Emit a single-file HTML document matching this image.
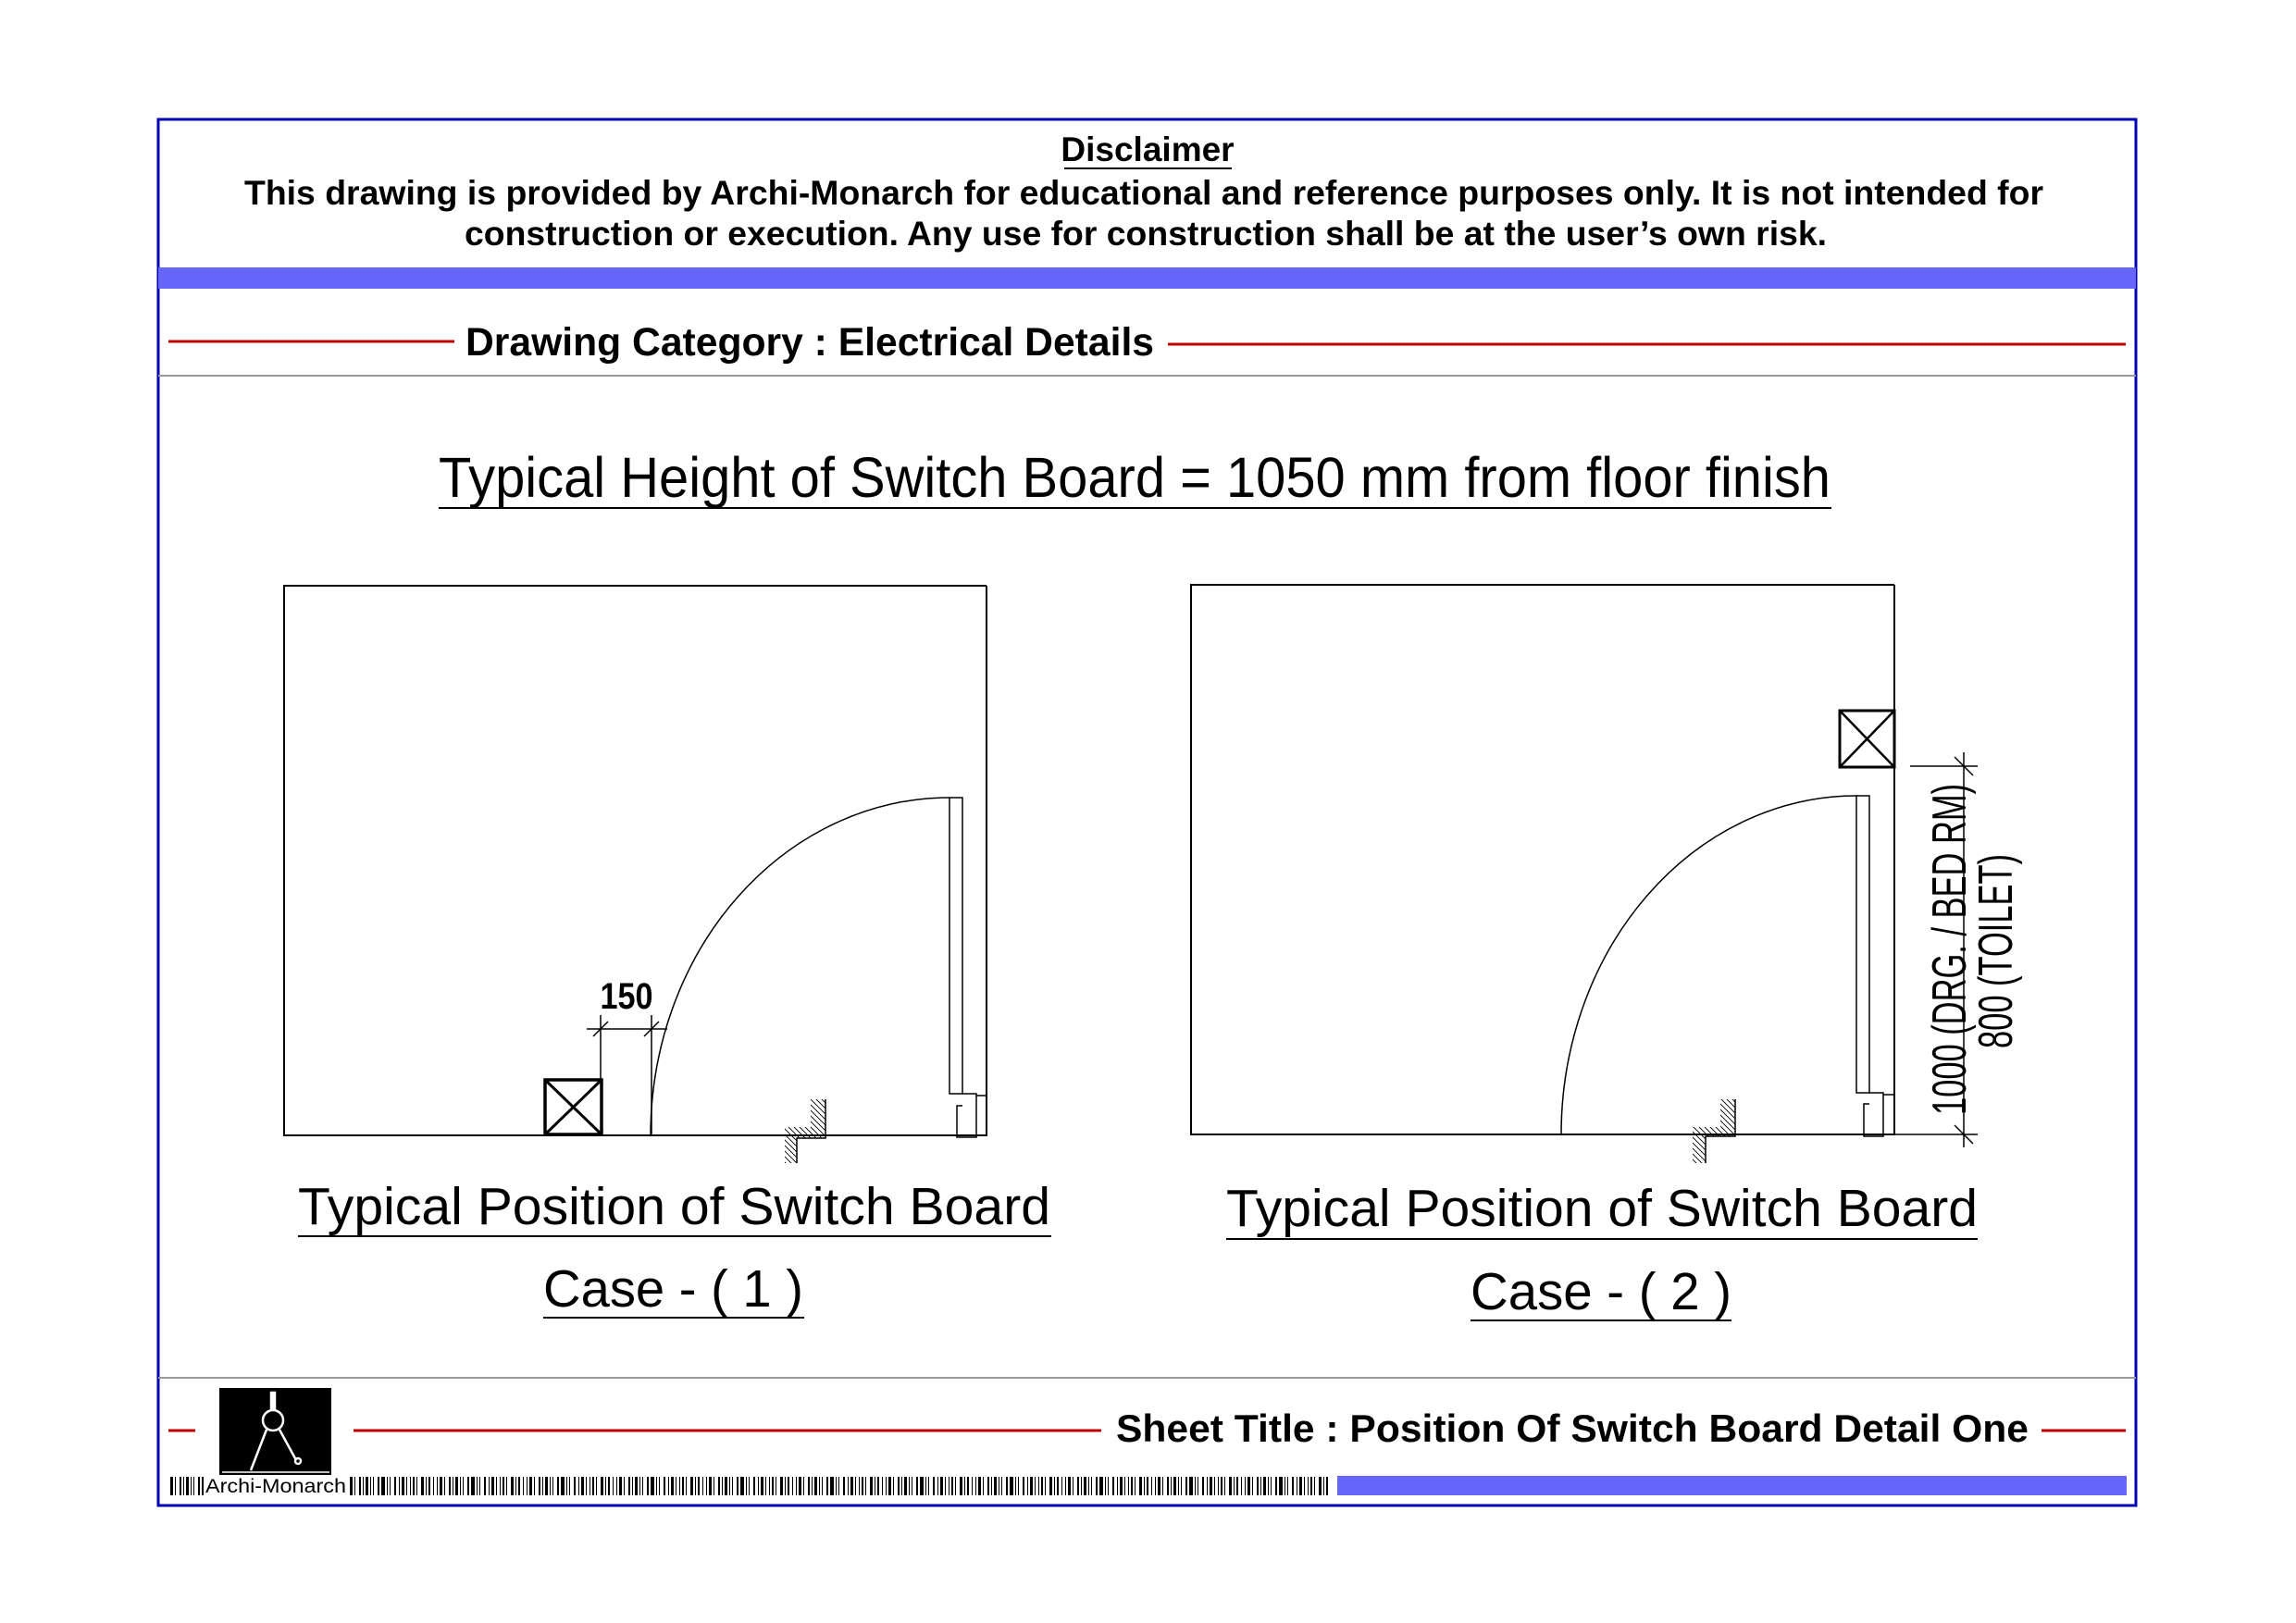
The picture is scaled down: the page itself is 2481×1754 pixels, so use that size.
<!DOCTYPE html>
<html><head><meta charset="utf-8"><style>
html,body{margin:0;padding:0;background:#fff;}
svg{display:block;}
text{font-family:"Liberation Sans",Arial,sans-serif;fill:#000;}
</style></head><body>
<svg width="2481" height="1754" viewBox="0 0 2481 1754" xmlns="http://www.w3.org/2000/svg">
<defs>
<pattern id="h" patternUnits="userSpaceOnUse" width="6" height="6">
<path d="M-1,-1 L7,7 M-7,-1 L1,7 M5,-1 L13,7" stroke="#000" stroke-width="0.9"/>
</pattern>
<pattern id="bc" patternUnits="userSpaceOnUse" width="97" height="20" x="0" y="1596">
<rect x="0" y="0" width="2" height="20"/><rect x="4" y="0" width="1" height="20"/><rect x="7" y="0" width="3" height="20"/><rect x="12" y="0" width="1" height="20"/><rect x="15" y="0" width="1" height="20"/><rect x="20" y="0" width="2" height="20"/><rect x="24" y="0" width="4" height="20"/><rect x="30" y="0" width="1" height="20"/><rect x="33" y="0" width="1" height="20"/><rect x="38" y="0" width="2" height="20"/><rect x="43" y="0" width="1" height="20"/><rect x="46" y="0" width="3" height="20"/><rect x="51" y="0" width="1" height="20"/><rect x="55" y="0" width="1" height="20"/><rect x="58" y="0" width="2" height="20"/><rect x="62" y="0" width="1" height="20"/><rect x="67" y="0" width="3" height="20"/><rect x="72" y="0" width="1" height="20"/><rect x="75" y="0" width="2" height="20"/><rect x="80" y="0" width="1" height="20"/><rect x="84" y="0" width="1" height="20"/><rect x="87" y="0" width="3" height="20"/><rect x="92" y="0" width="1" height="20"/>
</pattern>
</defs>

<rect x="171" y="129" width="2137" height="1498" fill="none" stroke="#0000b4" stroke-width="3"/>

<text x="1240" y="174" font-size="37" font-weight="bold" text-anchor="middle">Disclaimer</text>
<line x1="1150" y1="182" x2="1331" y2="182" stroke="#000" stroke-width="2"/>
<text x="264" y="221" font-size="37" font-weight="bold" textLength="1944" lengthAdjust="spacingAndGlyphs">This drawing is provided by Archi-Monarch for educational and reference purposes only. It is not intended for</text>
<text x="502" y="265" font-size="37" font-weight="bold" textLength="1472" lengthAdjust="spacingAndGlyphs">construction or execution. Any use for construction shall be at the user’s own risk.</text>

<rect x="171" y="289" width="2137" height="23" fill="#6666ff"/>

<line x1="182" y1="369" x2="491" y2="369" stroke="#c00000" stroke-width="3"/>
<line x1="1262" y1="372" x2="2297" y2="372" stroke="#c00000" stroke-width="3"/>
<text x="503" y="384" font-size="43" font-weight="bold" textLength="744" lengthAdjust="spacingAndGlyphs">Drawing Category : Electrical Details</text>
<line x1="171" y1="406" x2="2308" y2="406" stroke="#999" stroke-width="2"/>

<text x="474" y="537" font-size="61" textLength="1504" lengthAdjust="spacingAndGlyphs">Typical Height of Switch Board = 1050 mm from floor finish</text>
<line x1="474" y1="549" x2="1979" y2="549" stroke="#000" stroke-width="2"/>

<!-- LEFT ROOM -->
<g fill="none" stroke="#000" stroke-width="2">
<path d="M1066,633 H307 V1227 H1066 V633"/>
<rect x="589" y="1167" width="61" height="59" stroke-width="3.5"/>
<path d="M589,1167 L650,1226 M650,1167 L589,1226" stroke-width="3"/>
</g>
<g fill="none" stroke="#000" stroke-width="1.5">
<path d="M1026,862 A323,365 0 0,0 703,1227"/>
<rect x="1026" y="862" width="14" height="320"/>
<path d="M1040,1182 H1055 V1229 H1034 V1195 H1040 M1055,1184 H1066"/>
<path d="M649,1097 V1167 M704,1097 V1227 M634,1112 H721 M641,1120 L657,1104 M696,1120 L712,1104"/>
<path d="M892,1188 V1230 H861 V1257"/>
</g>
<path d="M876,1188 H892 V1230 H861 V1257 H848 V1218 H876 Z" fill="url(#h)"/>
<text x="677" y="1090" font-size="40" font-weight="bold" text-anchor="middle" textLength="57" lengthAdjust="spacingAndGlyphs">150</text>

<!-- RIGHT ROOM -->
<g fill="none" stroke="#000" stroke-width="2">
<path d="M2047,632 H1287 V1226 H2047 V632"/>
<rect x="1988" y="768" width="59" height="61" stroke-width="3"/>
<path d="M1988,768 L2047,829 M2047,768 L1988,829" stroke-width="2.5"/>
</g>
<g fill="none" stroke="#000" stroke-width="1.5">
<path d="M2006,860 A319,366 0 0,0 1687,1226"/>
<rect x="2006" y="860" width="14" height="321"/>
<path d="M2020,1181 H2035 V1228 H2014 V1193 H2020 M2035,1183 H2047"/>
<path d="M1875,1188 V1228 H1843 V1257"/>
<path d="M2064,828 H2137 M2047,1226 H2137 M2122,813 V1240 M2112,818 L2132,838 M2112,1216 L2132,1236"/>
</g>
<path d="M1859,1188 H1875 V1228 H1843 V1257 H1829 V1218 H1859 Z" fill="url(#h)"/>
<text transform="translate(2124,1026) rotate(-90)" font-size="52" text-anchor="middle" textLength="358" lengthAdjust="spacingAndGlyphs">1000 (DRG. / BED RM)</text>
<text transform="translate(2174,1028) rotate(-90)" font-size="52" text-anchor="middle" textLength="210" lengthAdjust="spacingAndGlyphs">800 (TOILET)</text>

<!-- captions -->
<text x="322" y="1323" font-size="57" textLength="813" lengthAdjust="spacingAndGlyphs">Typical Position of Switch Board</text>
<line x1="322" y1="1336" x2="1136" y2="1336" stroke="#000" stroke-width="2"/>
<text x="587" y="1412" font-size="57" textLength="281" lengthAdjust="spacingAndGlyphs">Case - ( 1 )</text>
<line x1="587" y1="1424" x2="869" y2="1424" stroke="#000" stroke-width="2"/>

<text x="1325" y="1325" font-size="57" textLength="812" lengthAdjust="spacingAndGlyphs">Typical Position of Switch Board</text>
<line x1="1325" y1="1339" x2="2137" y2="1339" stroke="#000" stroke-width="2"/>
<text x="1589" y="1415" font-size="57" textLength="282" lengthAdjust="spacingAndGlyphs">Case - ( 2 )</text>
<line x1="1589" y1="1427" x2="1871" y2="1427" stroke="#000" stroke-width="2"/>

<!-- footer -->
<line x1="171" y1="1489" x2="2308" y2="1489" stroke="#999" stroke-width="2"/>
<line x1="182" y1="1546" x2="211" y2="1546" stroke="#c00000" stroke-width="3"/>
<line x1="382" y1="1546" x2="1190" y2="1546" stroke="#c00000" stroke-width="3"/>
<line x1="2206" y1="1546" x2="2297" y2="1546" stroke="#c00000" stroke-width="3"/>
<text x="1206" y="1558" font-size="42" font-weight="bold" textLength="986" lengthAdjust="spacingAndGlyphs">Sheet Title : Position Of Switch Board Detail One</text>

<rect x="237" y="1500" width="121" height="94" fill="#000"/>
<g stroke="#fff" fill="none" stroke-width="2.5">
<rect x="293" y="1505" width="4" height="17" fill="#fff"/>
<circle cx="295" cy="1535" r="11"/>
<path d="M288,1545 L271,1589 M302,1545 L320,1578"/>
<path d="M240,1591 H356" stroke-width="1.5"/>
<circle cx="322" cy="1579" r="3"/>
</g>

<rect x="182" y="1596" width="38" height="20" fill="url(#bc)"/>
<rect x="378" y="1596" width="1059" height="20" fill="url(#bc)"/>
<text x="222" y="1613" font-size="21" textLength="152" lengthAdjust="spacingAndGlyphs">Archi-Monarch</text>
<rect x="1445" y="1595" width="853" height="21" fill="#6666ff"/>
</svg>
</body></html>
